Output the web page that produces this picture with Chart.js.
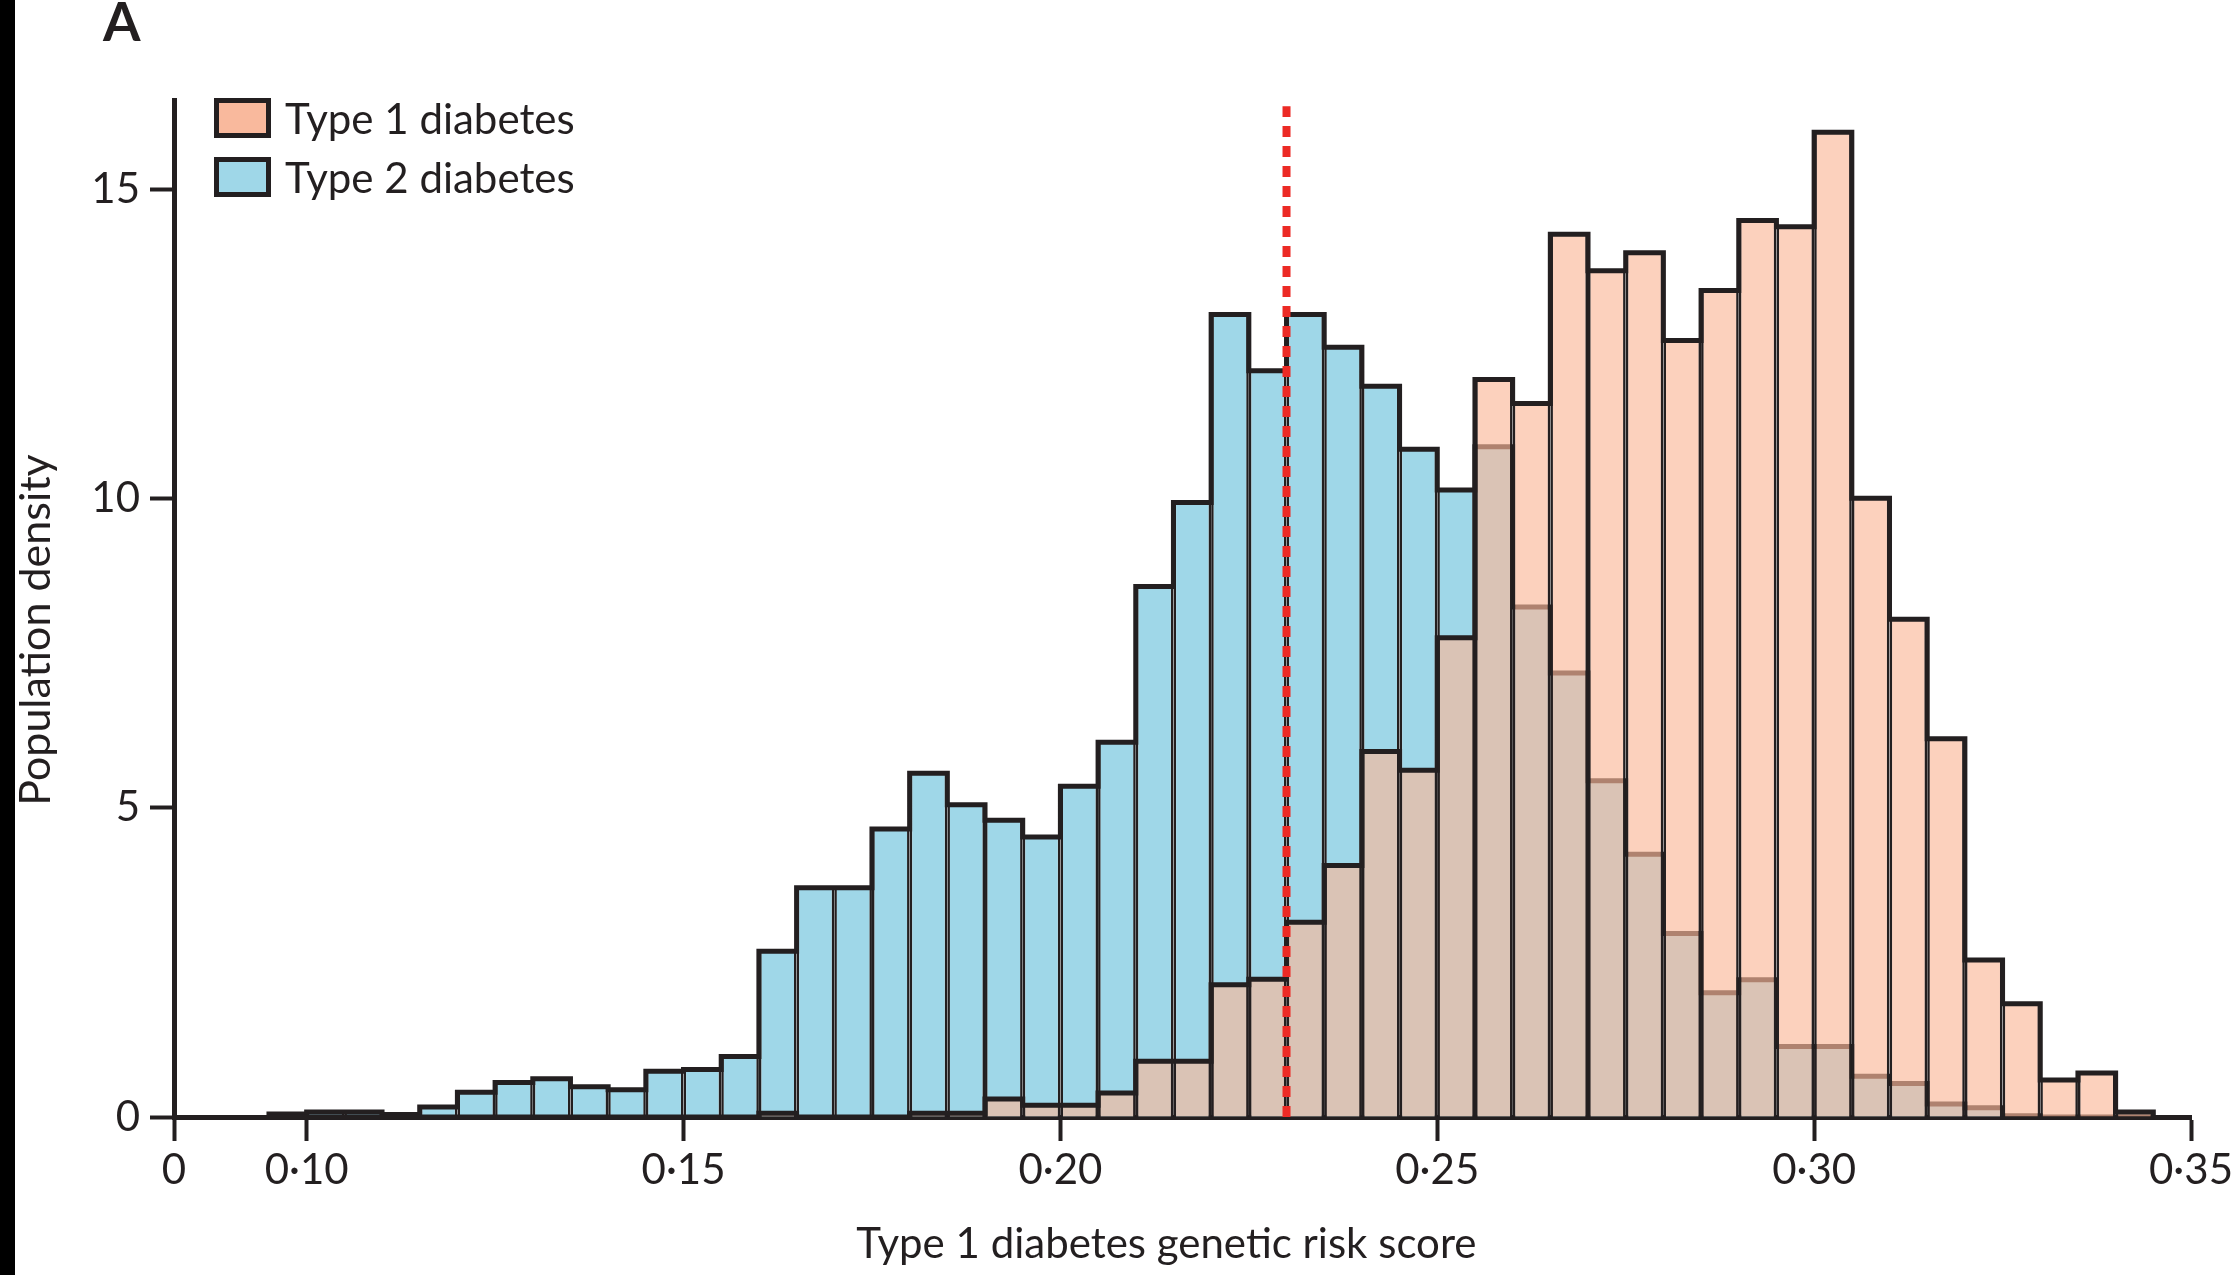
<!DOCTYPE html>
<html>
<head>
<meta charset="utf-8">
<title>Type 1 diabetes genetic risk score</title>
<script src="https://cdn.jsdelivr.net/npm/chart.js@4.4.1/dist/chart.umd.min.js"></script>
<style>
  html, body { margin: 0; padding: 0; background: #fff; }
  #wrap { position: relative; width: 2237px; height: 1275px; overflow: hidden; background: #fff; }
  #chart { position: absolute; left: 0; top: 0; }
  #edge { position: absolute; left: 0; top: 0; width: 15px; height: 1275px; background: #000; }
  #panel { position: absolute; left: 103px; top: -6px; font: bold 54px Lato, sans-serif; line-height: 54px; color: #231f20; }
  #legend { position: absolute; left: 214px; top: 88px; font: 42px Lato, sans-serif; color: #231f20; }
  #legend .item { display: flex; align-items: center; height: 59px; }
  #legend .swatch { box-sizing: border-box; width: 57px; height: 40px; border: 5px solid #231f20; margin-right: 14px; }
  #legend .label { line-height: 44px; }
</style>
</head>
<body>
<div id="wrap">
  <canvas id="chart" width="2237" height="1275"></canvas>
  <div id="edge"></div>
  <div id="panel">A</div>
  <div id="legend"></div>
</div>
<script>
// Histogram bin edges (bin width 0.005)
const binEdges = [
  0.095, 0.100, 0.105, 0.110, 0.115, 0.120, 0.125, 0.130, 0.135, 0.140,
  0.145, 0.150, 0.155, 0.160, 0.165, 0.170, 0.175, 0.180, 0.185, 0.190,
  0.195, 0.200, 0.205, 0.210, 0.215, 0.220, 0.225, 0.230, 0.235, 0.240,
  0.245, 0.250, 0.255, 0.260, 0.265, 0.270, 0.275, 0.280, 0.285, 0.290,
  0.295, 0.300, 0.305, 0.310, 0.315, 0.320, 0.325, 0.330, 0.335, 0.340,
  0.345
];

// Population density per bin, type 1 diabetes
const type1Density = [
  0, 0, 0, 0, 0, 0, 0, 0, 0, 0,
  0, 0, 0, 0.06, 0, 0, 0, 0.06, 0.06, 0.29,
  0.19, 0.19, 0.39, 0.90, 0.90, 2.14, 2.23, 3.15, 4.07, 5.91,
  5.61, 7.75, 11.93, 11.54, 14.28, 13.69, 13.98, 12.56, 13.37, 14.50,
  14.40, 15.93, 10.01, 8.05, 6.12, 2.54, 1.83, 0.60, 0.71, 0.08
];

// Population density per bin, type 2 diabetes
const type2Density = [
  0.05, 0.08, 0.08, 0.04, 0.16, 0.40, 0.56, 0.62, 0.49, 0.44,
  0.74, 0.77, 0.98, 2.68, 3.71, 3.71, 4.66, 5.56, 5.05, 4.80,
  4.53, 5.35, 6.06, 8.58, 9.94, 12.98, 12.07, 12.98, 12.45, 11.82,
  10.80, 10.14, 10.84, 8.25, 7.18, 5.44, 4.25, 2.97, 2.01, 2.22,
  1.14, 1.14, 0.66, 0.54, 0.21, 0.15, 0.02, 0, 0, 0
];

// Axis ticks (the x axis is broken: its origin is labelled 0)
const xAxisStart = 0.0824;
const xAxisEnd = 0.35;
const xTickValues = [0.0824, 0.10, 0.15, 0.20, 0.25, 0.30, 0.35];
const xTickLabels = ['0', '0\u00b710', '0\u00b715', '0\u00b720', '0\u00b725', '0\u00b730', '0\u00b735'];
const yAxisTop = 16.45;
const yTickValues = [0, 5, 10, 15];
const yTickLabels = ['0', '5', '10', '15'];

// Diagnostic threshold marker
const thresholdScore = 0.23;
const thresholdTop = 16.35;

const seriesNames = ['Type 1 diabetes', 'Type 2 diabetes'];
const xTitle = 'Type 1 diabetes genetic risk score';
const yTitle = 'Population density';

const INK = '#231f20';
const T1_FILL = 'rgba(250,184,153,0.65)';
const T1_SWATCH = '#f9b99d';
const T2_FILL = '#9fd7e8';
const RED = '#ec2a25';
const FONT = 'Lato, "Open Sans", sans-serif';
const NBSP = '\u00a0';

function barPoints(values) {
  return values.map((v, i) => ({ x: (binEdges[i] + binEdges[i + 1]) / 2, y: v }));
}

// Step outline around a histogram: up each bin edge, across each bin top
function outlinePoints(values) {
  const pts = [{ x: binEdges[0], y: 0 }];
  values.forEach((v, i) => {
    pts.push({ x: binEdges[i], y: v });
    pts.push({ x: binEdges[i + 1], y: v });
  });
  pts.push({ x: binEdges[binEdges.length - 1], y: 0 });
  return pts;
}

const barStyle = {
  type: 'bar',
  grouped: false,
  barPercentage: 1,
  categoryPercentage: 1,
  borderColor: INK,
  borderWidth: { top: 0, right: 2.6, bottom: 0, left: 2.6 },
  borderSkipped: false,
  inflateAmount: 0
};

const outlineStyle = {
  type: 'line',
  borderColor: INK,
  borderWidth: 5,
  borderJoinStyle: 'miter',
  borderCapStyle: 'butt',
  pointRadius: 0,
  tension: 0,
  fill: false,
  clip: false
};

// Legend
const legendEl = document.getElementById('legend');
[[seriesNames[0], T1_SWATCH], [seriesNames[1], T2_FILL]].forEach(([name, color]) => {
  const item = document.createElement('div');
  item.className = 'item';
  const sw = document.createElement('div');
  sw.className = 'swatch';
  sw.style.background = color;
  const lb = document.createElement('span');
  lb.className = 'label';
  lb.textContent = name;
  item.appendChild(sw);
  item.appendChild(lb);
  legendEl.appendChild(item);
});

Chart.defaults.font.family = FONT;
Chart.defaults.color = INK;

function build() {
  new Chart(document.getElementById('chart'), {
    type: 'bar',
    data: {
      datasets: [
        {
          label: 'threshold',
          type: 'line',
          data: [{ x: thresholdScore, y: 0 }, { x: thresholdScore, y: thresholdTop }],
          borderColor: RED,
          borderWidth: 8,
          borderDash: [11, 9],
          borderCapStyle: 'butt',
          pointRadius: 0,
          fill: false,
          clip: false,
          order: 0
        },
        Object.assign({ label: seriesNames[0] + ' outline', data: outlinePoints(type1Density), order: 1 }, outlineStyle),
        Object.assign({ label: seriesNames[0], data: barPoints(type1Density), backgroundColor: T1_FILL, order: 2 }, barStyle),
        Object.assign({ label: seriesNames[1] + ' outline', data: outlinePoints(type2Density), order: 3 }, outlineStyle),
        Object.assign({ label: seriesNames[1], data: barPoints(type2Density), backgroundColor: T2_FILL, order: 4 }, barStyle)
      ]
    },
    options: {
      responsive: false,
      animation: false,
      events: [],
      layout: { padding: { top: 100, right: 44, bottom: 0, left: 0 } },
      plugins: { legend: { display: false }, tooltip: { enabled: false } },
      scales: {
        x: {
          type: 'linear',
          min: xAxisStart,
          max: xAxisEnd,
          offset: false,
          afterBuildTicks: (s) => { s.ticks = xTickValues.map(v => ({ value: v })); },
          afterFit: (s) => { s.height = 158; },
          grid: { display: true, offset: false, drawOnChartArea: false, drawTicks: true, tickLength: 24, tickWidth: 4, tickColor: INK },
          border: { display: true, color: INK, width: 5 },
          ticks: {
            autoSkip: false, maxRotation: 0, minRotation: 0, padding: 4,
            color: INK, font: { size: 42 },
            callback: (v, i) => xTickLabels[i]
          },
          title: {
            display: true, text: xTitle + NBSP.repeat(3),
            color: INK, font: { size: 42 }, padding: { top: 0, bottom: 5 }
          }
        },
        y: {
          type: 'linear',
          min: 0,
          max: yAxisTop,
          afterBuildTicks: (s) => { s.ticks = yTickValues.map(v => ({ value: v })); },
          afterFit: (s) => { s.width = 174; },
          grid: { display: true, drawOnChartArea: false, drawTicks: true, tickLength: 24, tickWidth: 4, tickColor: INK },
          border: { display: true, color: INK, width: 5 },
          ticks: {
            padding: 10, color: INK, font: { size: 42 },
            callback: (v, i) => yTickLabels[i]
          },
          title: {
            display: true, text: yTitle + NBSP.repeat(4),
            color: INK, font: { size: 43 }, padding: { top: 10, bottom: 0 }
          }
        }
      }
    }
  });
}

if (document.fonts && document.fonts.load) {
  Promise.all([document.fonts.load('44px Lato'), document.fonts.load('bold 54px Lato')]).then(build, build);
} else {
  build();
}
</script>
</body>
</html>
